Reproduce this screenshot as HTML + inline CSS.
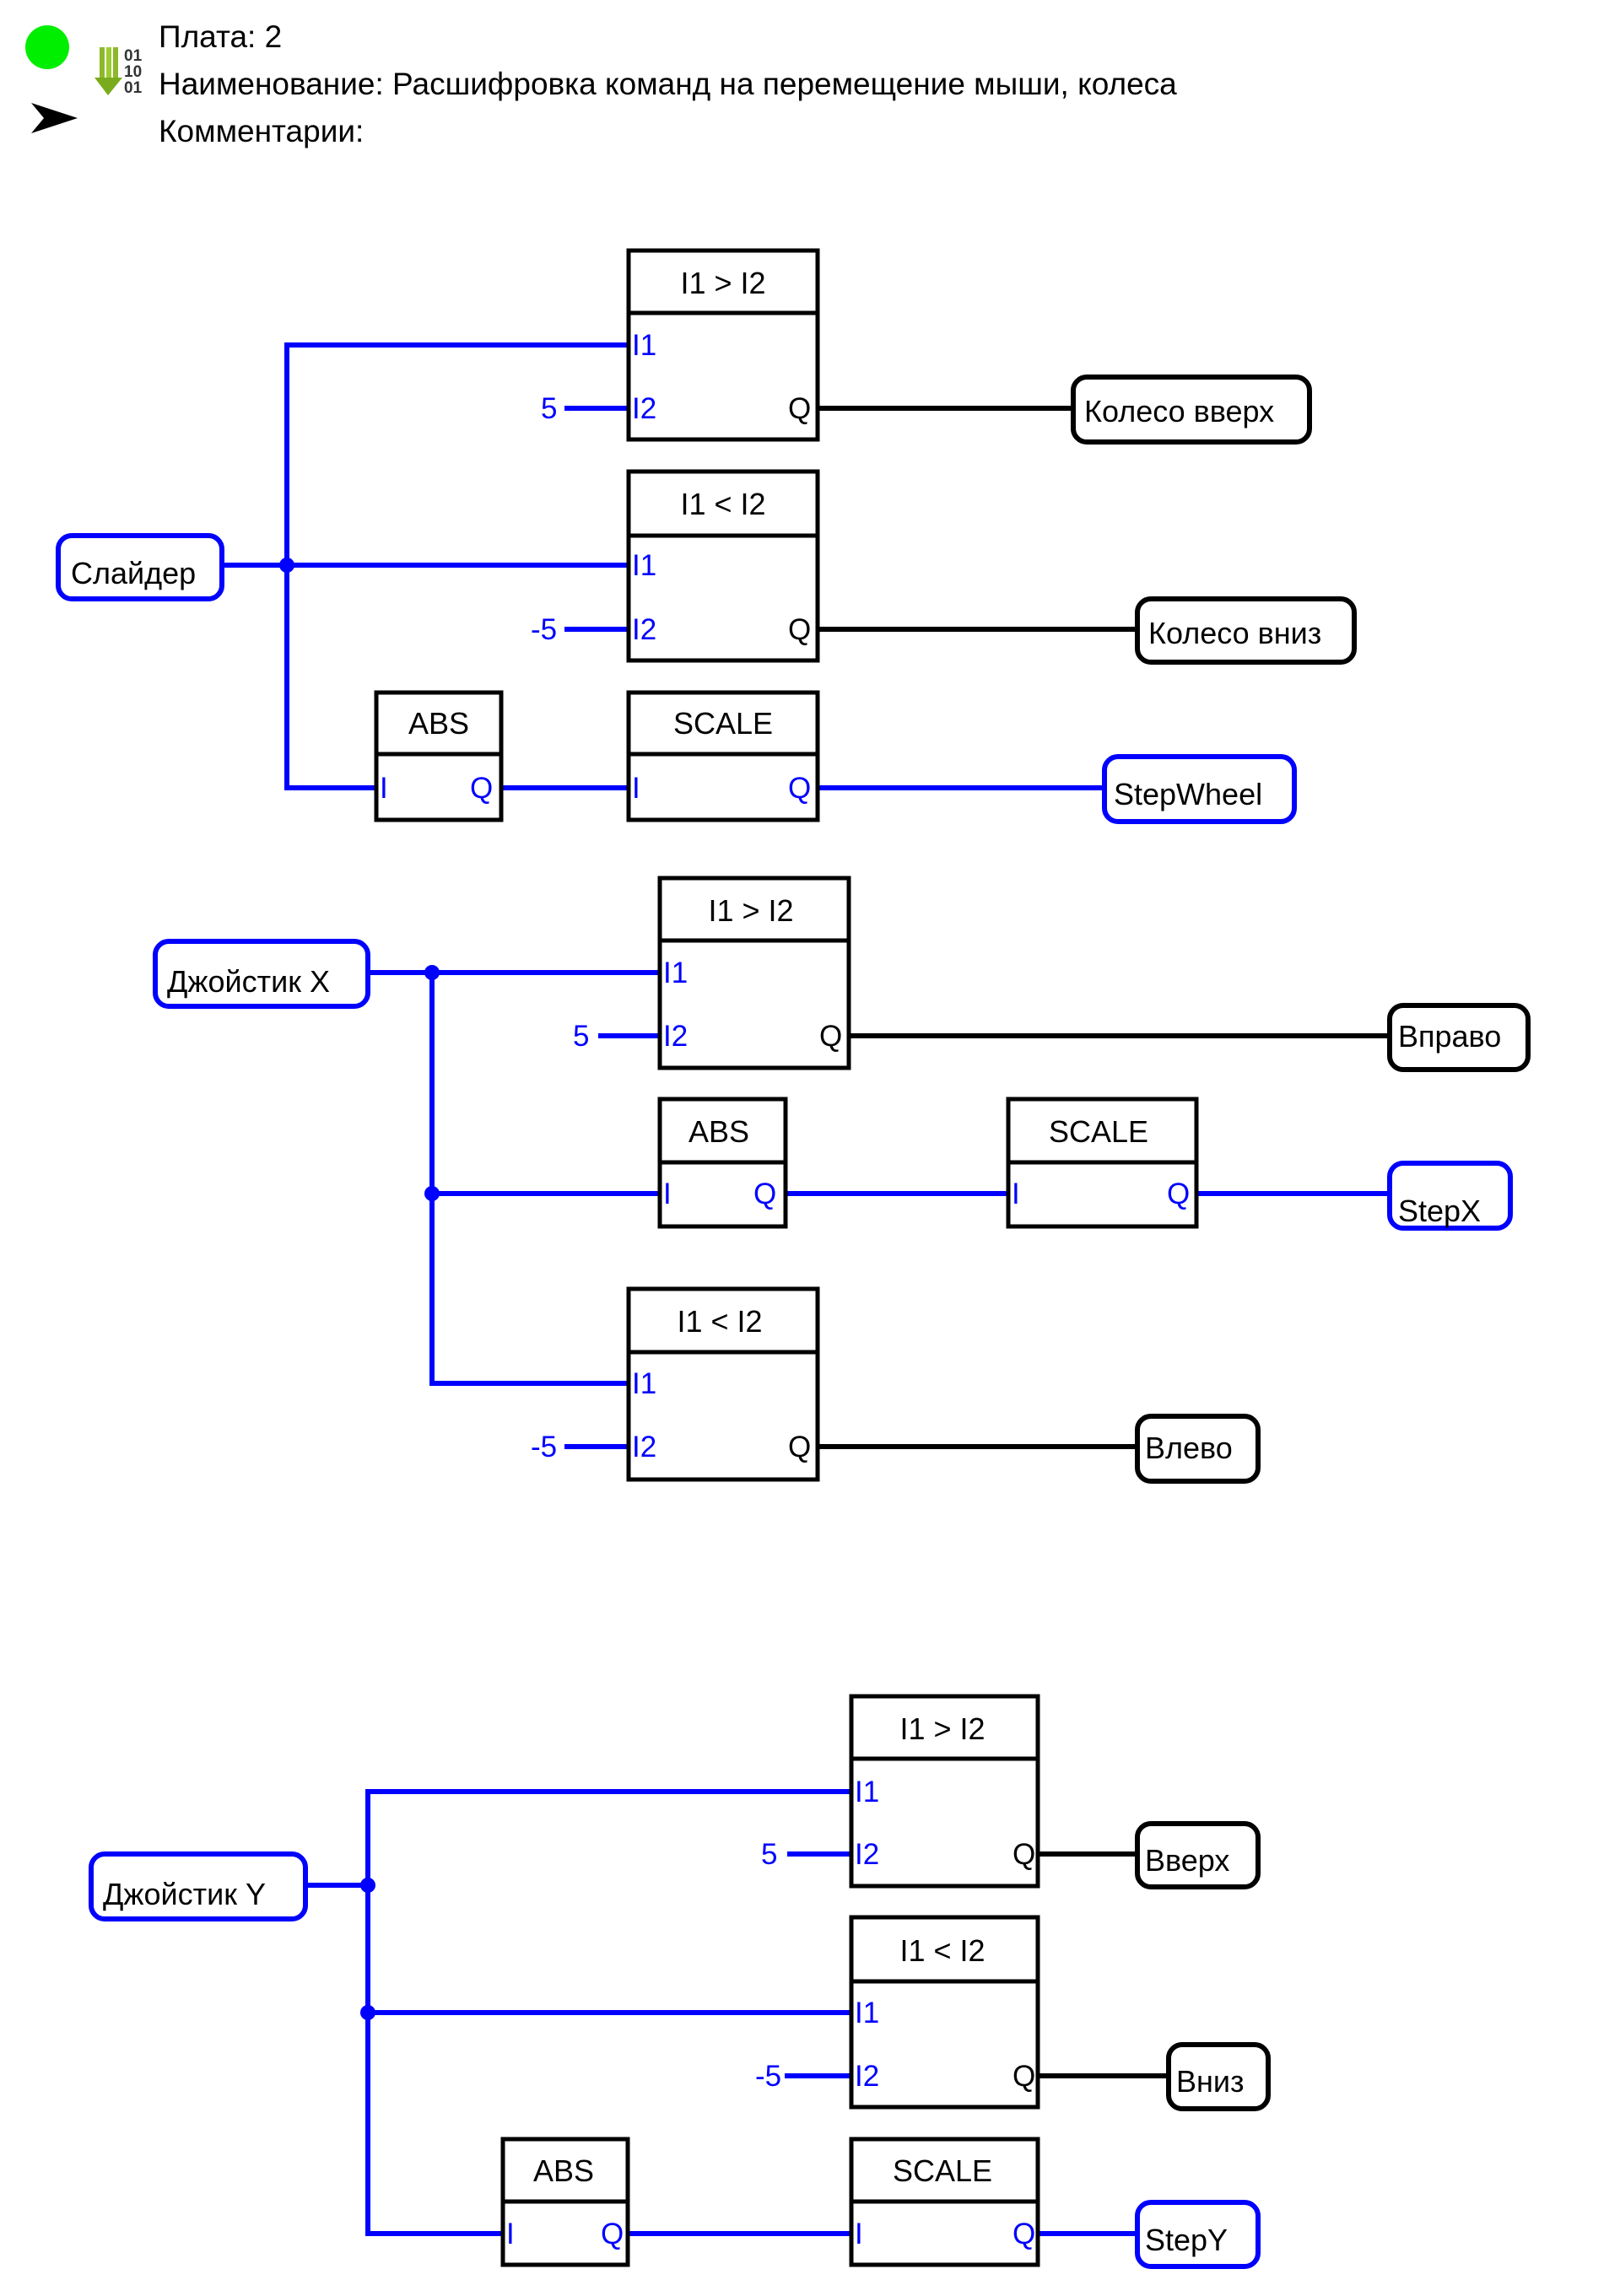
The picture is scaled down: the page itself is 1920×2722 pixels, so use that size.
<!DOCTYPE html>
<html><head><meta charset="utf-8"><style>
html,body{margin:0;padding:0;background:#fff;}
svg{display:block;}
text{font-family:"Liberation Sans",sans-serif;}
</style></head><body>
<svg width="1920" height="2722" viewBox="0 0 1920 2722" xmlns="http://www.w3.org/2000/svg">
<rect width="1920" height="2722" fill="#fff"/>
<!-- header -->
<circle cx="56" cy="56" r="26" fill="#00ee00"/>
<polygon points="37,122 92,140 37,158 52,140" fill="#000"/>
<rect x="118" y="56" width="6" height="38" fill="#8db82a"/>
<rect x="126" y="56" width="6" height="38" fill="#9ccc33"/>
<rect x="134" y="56" width="6" height="38" fill="#8db82a"/>
<polygon points="112,92 145,92 128,113" fill="#7aab1c"/>
<text x="147" y="72" font-size="19" font-weight="bold" fill="#333">01</text>
<text x="147" y="91" font-size="19" font-weight="bold" fill="#333">10</text>
<text x="147" y="110" font-size="19" font-weight="bold" fill="#333">01</text>
<g font-size="37" fill="#000">
<text x="188" y="56">Плата: 2</text>
<text x="188" y="112">Наименование: Расшифровка команд на перемещение мыши, колеса</text>
<text x="188" y="168">Комментарии:</text>
</g>

<g transform="translate(-5,-3)">
<!-- ============ Diagram 1 ============ -->
<g stroke="#0000ff" stroke-width="6" fill="none">
<polyline points="749,412 345,412 345,937 449,937"/>
<line x1="268" y1="673" x2="749" y2="673"/>
<line x1="674" y1="487" x2="749" y2="487"/>
<line x1="674" y1="749" x2="749" y2="749"/>
<line x1="601" y1="937" x2="749" y2="937"/>
<line x1="976" y1="937" x2="1311" y2="937"/>
</g>
<circle cx="345" cy="673" r="9" fill="#0000ff"/>
<g stroke="#000" stroke-width="6">
<line x1="976" y1="487" x2="1274" y2="487"/>
<line x1="976" y1="749" x2="1350" y2="749"/>
</g>
<g fill="#fff" stroke="#000" stroke-width="5">
<rect x="750" y="300" width="224" height="224"/><line x1="750" y1="374" x2="974" y2="374"/>
<rect x="750" y="562" width="224" height="224"/><line x1="750" y1="638" x2="974" y2="638"/>
<rect x="451" y="824" width="148" height="151"/><line x1="451" y1="897" x2="599" y2="897"/>
<rect x="750" y="824" width="224" height="151"/><line x1="750" y1="897" x2="974" y2="897"/>
</g>
<g font-size="36" fill="#000" text-anchor="middle">
<text x="862" y="351">I1 &gt; I2</text>
<text x="862" y="613">I1 &lt; I2</text>
<text x="525" y="873">ABS</text>
<text x="862" y="873">SCALE</text>
</g>
<g font-size="35" fill="#0000ff">
<text x="754" y="424">I1</text><text x="754" y="499">I2</text>
<text x="754" y="685">I1</text><text x="754" y="761">I2</text>
<text x="455" y="949">I</text><text x="754" y="949">I</text>
<text x="646" y="499">5</text><text x="634" y="761">-5</text>
<text x="562" y="949">Q</text><text x="939" y="949">Q</text>
</g>
<g font-size="35" fill="#000"><text x="939" y="499">Q</text><text x="939" y="761">Q</text></g>
<g fill="#fff" stroke-width="6">
<rect x="74" y="638" width="194" height="75" rx="16" stroke="#0000ff"/>
<rect x="1277" y="450" width="280" height="77" rx="16" stroke="#000"/>
<rect x="1353" y="713" width="257" height="75" rx="16" stroke="#000"/>
<rect x="1314" y="900" width="225" height="77" rx="16" stroke="#0000ff"/>
</g>
<g font-size="36" fill="#000" transform="translate(-8,-4)">
<text x="97" y="699">Слайдер</text>
<text x="1298" y="507">Колесо вверх</text>
<text x="1374" y="770">Колесо вниз</text>
<text x="1333" y="961">StepWheel</text>
</g>

<!-- ============ Diagram 2 ============ -->
<g stroke="#0000ff" stroke-width="6" fill="none">
<line x1="441" y1="1156" x2="785" y2="1156"/>
<polyline points="517,1156 517,1643 748,1643"/>
<line x1="517" y1="1418" x2="785" y2="1418"/>
<line x1="938" y1="1418" x2="1198" y2="1418"/>
<line x1="1425" y1="1418" x2="1649" y2="1418"/>
<line x1="714" y1="1231" x2="785" y2="1231"/>
<line x1="674" y1="1718" x2="748" y2="1718"/>
</g>
<circle cx="517" cy="1156" r="9" fill="#0000ff"/>
<circle cx="517" cy="1418" r="9" fill="#0000ff"/>
<g stroke="#000" stroke-width="6">
<line x1="1013" y1="1231" x2="1649" y2="1231"/>
<line x1="976" y1="1718" x2="1350" y2="1718"/>
</g>
<g fill="#fff" stroke="#000" stroke-width="5">
<rect x="787" y="1044" width="224" height="225"/><line x1="787" y1="1118" x2="1011" y2="1118"/>
<rect x="787" y="1306" width="149" height="151"/><line x1="787" y1="1381" x2="936" y2="1381"/>
<rect x="1200" y="1306" width="223" height="151"/><line x1="1200" y1="1381" x2="1423" y2="1381"/>
<rect x="750" y="1531" width="224" height="226"/><line x1="750" y1="1606" x2="974" y2="1606"/>
</g>
<g font-size="36" fill="#000" text-anchor="middle">
<text x="895" y="1095">I1 &gt; I2</text>
<text x="857" y="1357">ABS</text>
<text x="1307" y="1357">SCALE</text>
<text x="858" y="1582">I1 &lt; I2</text>
</g>
<g font-size="35" fill="#0000ff">
<text x="791" y="1168">I1</text><text x="791" y="1243">I2</text>
<text x="791" y="1430">I</text><text x="1204" y="1430">I</text>
<text x="898" y="1430">Q</text><text x="1388" y="1430">Q</text>
<text x="754" y="1655">I1</text><text x="754" y="1730">I2</text>
<text x="684" y="1243">5</text><text x="634" y="1730">-5</text>
</g>
<g font-size="35" fill="#000"><text x="976" y="1243">Q</text><text x="939" y="1730">Q</text></g>
<g fill="#fff" stroke-width="6">
<rect x="189" y="1119" width="252" height="77" rx="16" stroke="#0000ff"/>
<rect x="1652" y="1195" width="164" height="76" rx="16" stroke="#000"/>
<rect x="1652" y="1382" width="143" height="77" rx="16" stroke="#0000ff"/>
<rect x="1353" y="1682" width="143" height="77" rx="16" stroke="#000"/>
</g>
<g font-size="36" fill="#000" transform="translate(-4,-1)">
<text x="207" y="1180">Джойстик X</text>
<text x="1666" y="1245">Вправо</text>
<text x="1666" y="1452">StepX</text>
<text x="1366" y="1733">Влево</text>
</g>

<!-- ============ Diagram 3 ============ -->
<g stroke="#0000ff" stroke-width="6" fill="none">
<polyline points="1012,2127 441,2127 441,2651 599,2651"/>
<line x1="367" y1="2238" x2="441" y2="2238"/>
<line x1="441" y1="2389" x2="1012" y2="2389"/>
<line x1="938" y1="2201" x2="1012" y2="2201"/>
<line x1="935" y1="2464" x2="1012" y2="2464"/>
<line x1="751" y1="2651" x2="1012" y2="2651"/>
<line x1="1237" y1="2651" x2="1350" y2="2651"/>
</g>
<circle cx="441" cy="2238" r="9" fill="#0000ff"/>
<circle cx="441" cy="2389" r="9" fill="#0000ff"/>
<g stroke="#000" stroke-width="6">
<line x1="1237" y1="2201" x2="1350" y2="2201"/>
<line x1="1237" y1="2464" x2="1387" y2="2464"/>
</g>
<g fill="#fff" stroke="#000" stroke-width="5">
<rect x="1014" y="2014" width="221" height="225"/><line x1="1014" y1="2088" x2="1235" y2="2088"/>
<rect x="1014" y="2276" width="221" height="225"/><line x1="1014" y1="2352" x2="1235" y2="2352"/>
<rect x="601" y="2539" width="148" height="149"/><line x1="601" y1="2613" x2="749" y2="2613"/>
<rect x="1014" y="2539" width="221" height="149"/><line x1="1014" y1="2613" x2="1235" y2="2613"/>
</g>
<g font-size="36" fill="#000" text-anchor="middle">
<text x="1122" y="2065">I1 &gt; I2</text>
<text x="1122" y="2328">I1 &lt; I2</text>
<text x="673" y="2589">ABS</text>
<text x="1122" y="2589">SCALE</text>
</g>
<g font-size="35" fill="#0000ff">
<text x="1018" y="2139">I1</text><text x="1018" y="2213">I2</text>
<text x="1018" y="2401">I1</text><text x="1018" y="2476">I2</text>
<text x="605" y="2663">I</text><text x="1018" y="2663">I</text>
<text x="717" y="2663">Q</text><text x="1205" y="2663">Q</text>
<text x="907" y="2213">5</text><text x="900" y="2476">-5</text>
</g>
<g font-size="35" fill="#000"><text x="1205" y="2213">Q</text><text x="1205" y="2476">Q</text></g>
<g fill="#fff" stroke-width="6">
<rect x="113" y="2201" width="254" height="77" rx="16" stroke="#0000ff"/>
<rect x="1353" y="2165" width="143" height="75" rx="16" stroke="#000"/>
<rect x="1390" y="2427" width="118" height="76" rx="16" stroke="#000"/>
<rect x="1353" y="2614" width="143" height="76" rx="16" stroke="#0000ff"/>
</g>
<g font-size="36" fill="#000" transform="translate(-4,-1)">
<text x="131" y="2262">Джойстик Y</text>
<text x="1366" y="2222">Вверх</text>
<text x="1403" y="2484">Вниз</text>
<text x="1366" y="2672">StepY</text>
</g>
</g>
</svg>
</body></html>
